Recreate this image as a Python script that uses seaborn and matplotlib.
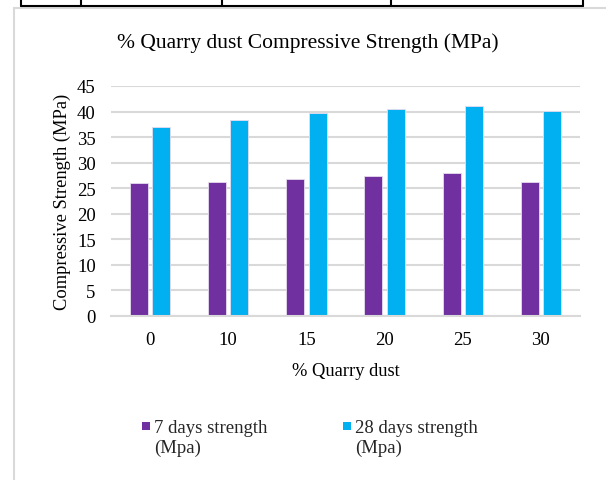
import matplotlib
matplotlib.use("Agg")
import matplotlib.pyplot as plt
from matplotlib.lines import Line2D
from matplotlib.patches import Rectangle
from matplotlib.legend_handler import HandlerPatch
import seaborn as sns
import pandas as pd

categories = ["0", "10", "15", "20", "25", "30"]
strength_7 = [26.1, 26.2, 26.8, 27.3, 27.9, 26.3]
strength_28 = [37.0, 38.4, 39.8, 40.5, 41.1, 40.1]
series_names = ["7 days strength\n(Mpa)", "28 days strength\n(Mpa)"]
colors = ["#7030A0", "#00B0F0"]
y_ticks = [0, 5, 10, 15, 20, 25, 30, 35, 40, 45]

df = pd.DataFrame({
    "dust": categories * 2,
    "value": strength_7 + strength_28,
    "series": [series_names[0]] * len(categories) + [series_names[1]] * len(categories),
})

sns.set_theme(style="white")
plt.rcParams["font.family"] = ["Liberation Serif", "DejaVu Serif"]

fig = plt.figure(figsize=(6.06, 4.81), dpi=100)
ax = fig.add_axes([111 / 606, 1 - 317 / 481, (580 - 111) / 606, (317 - 87) / 481])

sns.barplot(data=df, x="dust", y="value", hue="series", order=categories,
            hue_order=series_names, palette=colors, width=0.573, gap=0.2,
            edgecolor="#e6dcef", linewidth=0.6, saturation=1, ax=ax, legend=False)

ax.set_ylim(0, 45)
ax.set_yticks(y_ticks)
ax.yaxis.grid(True, color="#d9d9d9", linewidth=1.5)
ax.set_axisbelow(True)
for s in ["top", "right", "left"]:
    ax.spines[s].set_visible(False)
ax.spines["bottom"].set_color("#d9d9d9")
ax.spines["bottom"].set_linewidth(1.5)
ax.tick_params(axis="both", length=0, labelsize=13.5, colors="black")
ax.tick_params(axis="y", pad=11)
ax.tick_params(axis="x", pad=11)
ax.set_xlim(-0.5, len(categories) - 0.5)

ax.set_xlabel("% Quarry dust", fontsize=13.3, color="black", labelpad=10)
ax.set_ylabel("Compressive Strength (MPa)", fontsize=13.3, color="black", labelpad=4)
fig.text(308 / 606, 1 - 43 / 481, "% Quarry dust Compressive Strength (MPa)",
         ha="center", va="center", fontsize=15.5, color="black")


def square_patch(legend, orig_handle, xdescent, ydescent, width, height, fontsize):
    return Rectangle((-xdescent, -ydescent + 0.64 * fontsize), width, width)


handles = [Rectangle((0, 0), 1, 1, facecolor=c, edgecolor="none") for c in colors]
fig.legend(handles, series_names, loc="upper left",
           bbox_to_anchor=(125 / 606, 1 - 403 / 481), ncol=2, frameon=False,
           fontsize=13.5, handlelength=0.44, handleheight=0.44, handletextpad=0.22,
           columnspacing=4.0, labelspacing=0.1,
           handler_map={Rectangle: HandlerPatch(patch_func=square_patch)})

# surrounding document frame
fig.add_artist(Line2D([14 / 606, 14 / 606], [0, 1 - 9 / 481], color="#d9d9d9", linewidth=1.5))
fig.add_artist(Line2D([14 / 606, 1], [1 - 9 / 481, 1 - 9 / 481], color="#d9d9d9", linewidth=1.5))
fig.add_artist(Line2D([21 / 606, 583 / 606], [1 - 6.5 / 481, 1 - 6.5 / 481], color="black", linewidth=1.5))
for xv in [21, 81, 222, 391, 583]:
    fig.add_artist(Line2D([xv / 606, xv / 606], [1 - 6.5 / 481, 1], color="black", linewidth=1.5))

fig.savefig("out.png", dpi=100)
